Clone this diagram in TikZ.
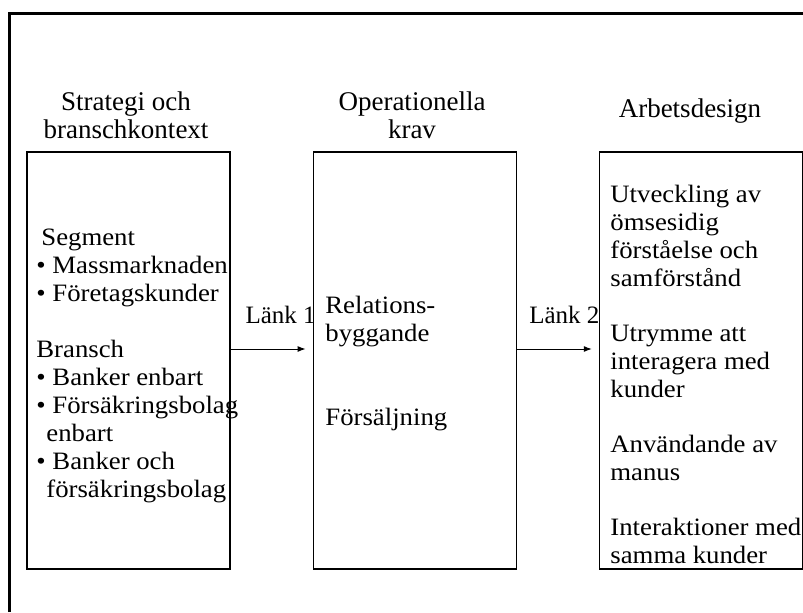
\documentclass[tikz,border=0pt]{standalone}
\usepackage{fontspec}
\setmainfont{Liberation Serif}
\newfontfamily\bodyfont[FakeStretch=1.07]{Liberation Serif}
\usetikzlibrary{arrows.meta,positioning}

\tikzset{
  panel/.style={draw, line width=0.6pt, minimum width=101.5pt, minimum height=208.5pt, inner sep=0pt},
  heading/.style={anchor=base, align=center, inner sep=0pt, font=\fontsize{13.5}{14}\selectfont},
  body/.style={anchor=base west, align=left, inner sep=0pt, font=\bodyfont\fontsize{12.5}{14}\selectfont},
  link/.style={-{Latex[length=4pt,width=3pt]}, line width=0.5pt, shorten >=3.5pt}
}

\begin{document}
\begin{tikzpicture}[x=0.5pt, y=-0.5pt]
	\useasboundingbox (0,0) rectangle (803,612);
	% outer frame
	\draw[line width=1.5pt] (9,612) -- (9,13) -- (803,13);
	% the three columns
	\node[panel] (strat) at (128.5,360.5) {};
	\node[panel, right=41pt of strat] (ops) {};
	\node[panel, right=41pt of ops] (work) {};
	\node[heading] (stratT) at (126,138) {Strategi och\\branschkontext};
	\node[heading] (opsT) at (412,138) {Operationella\\krav};
	\node[heading] (workT) at (690,117) {Arbetsdesign};
	% contents (base = last line)
	\node[body] (segm) at (36,497) {\hspace*{2.5pt}Segment\\
	  • Massmarknaden\\
	  • Företagskunder\\[14pt]
	  Bransch\\
	  • Banker enbart\\
	  • Försäkringsbolag\\
	  \hspace*{5pt}enbart\\
	  • Banker och\\
	  \hspace*{5pt}försäkringsbolag};
	\node[body] (rel) at (325,425) {Relations-\\byggande\\[28pt]Försäljning};
	\node[body] (utv) at (610,563) {Utveckling av\\
	  ömsesidig\\
	  förståelse och\\
	  samförstånd\\[13.5pt]
	  Utrymme att\\
	  interagera med\\
	  kunder\\[13.5pt]
	  Användande av\\
	  manus\\[13.5pt]
	  Interaktioner med\\
	  samma kunder};
	% links
	\draw[link] ([yshift=5.75pt]strat.east) -- node[heading, pos=0.61, yshift=13pt] (l1) {\fontsize{12.5}{14}\selectfont Länk 1} ([yshift=5.75pt]ops.west);
	\draw[link] ([yshift=5.75pt]ops.east) -- node[heading, pos=0.58, yshift=13pt] (l2) {\fontsize{12.5}{14}\selectfont Länk 2} ([yshift=5.75pt]work.west);
\end{tikzpicture}
\end{document}
